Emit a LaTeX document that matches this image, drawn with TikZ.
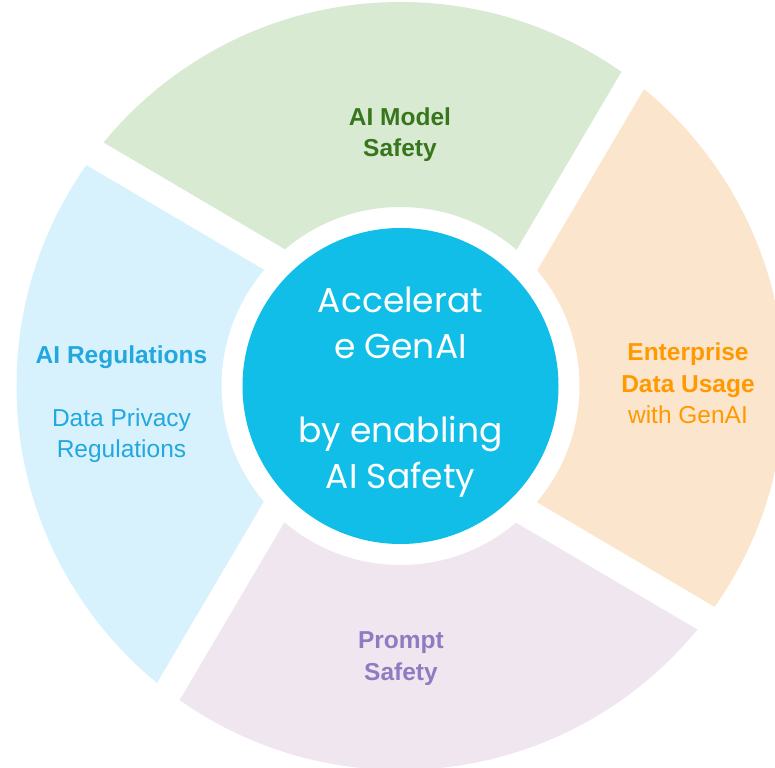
\documentclass[tikz,border=0pt]{standalone}
\usepackage{fontspec}
\setmainfont{Liberation Sans}
\newfontfamily\hubfont{Poppins}
\usepackage{tikz}
\definecolor{modelfill}{HTML}{D9EAD3}
\definecolor{modeltext}{HTML}{38761D}
\definecolor{usagefill}{HTML}{FCE5CD}
\definecolor{usagetext}{HTML}{FF9900}
\definecolor{promptfill}{HTML}{F0E6F0}
\definecolor{prompttext}{HTML}{8E7CC3}
\definecolor{regfill}{HTML}{D7F2FC}
\definecolor{regtext}{HTML}{22A7DF}
\definecolor{hubfill}{HTML}{10BEE8}
\newcommand{\outerradius}{384}
\newcommand{\innerradius}{179}
\newcommand{\gapoffset}{45}
\newcommand{\makesegment}[2]{
	\begin{scope}[even odd rule]
	\clip (0,0) circle (\outerradius) (0,0) circle (\innerradius);
	\fill[#2] (#1-45:1.4142*\gapoffset) -- ++(#1:800) -- ++(#1+90:800) -- ++(#1+180:800) -- cycle;
	\end{scope}
}

\begin{document}
\begin{tikzpicture}[x=1pt,y=1pt,
	label/.style={align=center, anchor=base, font=\fontsize{24.5}{31.5}\selectfont}]
	\useasboundingbox (-400.5,-381) rectangle (374.5,386);
	\clip (-400.5,-381) rectangle (374.5,386);

	\makesegment{59.5}{modelfill}
	\makesegment{-30.5}{usagefill}
	\makesegment{-120.5}{promptfill}
	\makesegment{149.5}{regfill}

	% white gaps between the segments
	\foreach \a in {59.5,-30.5,-120.5,149.5}
		\draw[white, line width=28pt] (\a-90:\gapoffset) -- ++(\a:800);

	\fill[hubfill] (0,0) circle (158);

	% base anchor sits on the last line
	\node[label, text=modeltext] (model) at (-0.5,229) {\bfseries AI Model\\\bfseries Safety};
	\node[label, text=usagetext] (usage) at (287.5,-38) {\bfseries Enterprise\\\bfseries Data Usage\\with GenAI};
	\node[label, text=prompttext] (prompt) at (0.5,-294) {\bfseries Prompt\\\bfseries Safety};
	\node[label, text=regtext] (reg) at (-279,-72) {\bfseries AI Regulations\\[31.5pt]Data Privacy\\Regulations};
	\node[align=center, anchor=base, text=white, font=\hubfont\fontsize{34.5}{46}\selectfont] (hub) at (0,-102.3)
		{Accelerat\\e GenAI\\[38pt]by enabling\\AI Safety};
\end{tikzpicture}
\end{document}
